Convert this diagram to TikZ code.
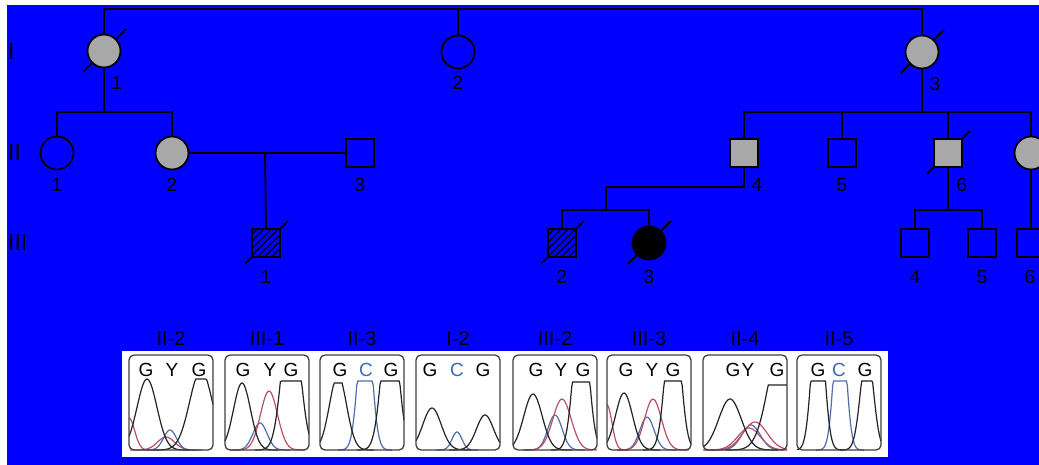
\documentclass[tikz,border=0pt]{standalone}
\usepackage{fontspec}
\setmainfont{Liberation Sans}
\usetikzlibrary{patterns.meta,backgrounds}

\definecolor{bgblue}{RGB}{0,0,255}
\definecolor{affgray}{RGB}{168,168,168}
\definecolor{tblack}{RGB}{35,35,35}
\definecolor{tblue}{RGB}{80,110,170}
\definecolor{tred}{RGB}{185,80,105}
\definecolor{cblue}{RGB}{60,105,185}

\begin{document}
\begin{tikzpicture}[x=1pt, y=-1pt,
    ln/.style={line width=1.8pt},
    fem/.style={circle, draw, ln, minimum size=33pt, inner sep=0pt},
    mal/.style={rectangle, draw, ln, minimum size=28pt, inner sep=0pt},
    aff/.style={fill=affgray},
    hatch/.style={fill=bgblue, postaction={pattern={Lines[angle=45, distance=5pt, line width=1.2pt]}}},
    num/.style={font=\fontsize{19}{19}\selectfont, inner sep=0pt},
    gen/.style={font=\fontsize{23}{23}\selectfont, anchor=west, inner sep=0pt},
    box/.style={draw=black!75, line width=1.3pt, rounded corners=5pt},
    trace/.style={line width=1.2pt}]

    \useasboundingbox (0,0) rectangle (1039,465);
    \clip (0,0) rectangle (1039,465);

    % 背景
    \begin{pgfonlayer}{background}
        \fill[white] (0,0) rectangle (1039,465);
        \fill[bgblue] (7,5) rectangle (1039,465);
        \fill[white] (122,351) rectangle (888,457);
    \end{pgfonlayer}

    % 代数标记
    \node[gen] (g1) at (8,52) {I};
    \node[gen] (g2) at (8,153) {II};
    \node[gen] (g3) at (8,243) {III};

    % 第一代
    \node[fem, aff] (I1) at (104,51) {};
    \node[fem] (I2) at (458,52) {};
    \node[fem, aff] (I3) at (922,52) {};

    % 第二代
    \node[fem] (II1) at (57,153) {};
    \node[fem, aff] (II2) at (172,153) {};
    \node[mal] (II3) at (360,153) {};
    \node[mal, aff] (II4) at (744,153) {};
    \node[mal] (II5) at (842,153) {};
    \node[mal, aff] (II6) at (948,153) {};
    \node[fem, aff] (II7) at (1031,153) {};

    % 第三代
    \node[mal, hatch] (III1) at (266,243) {};
    \node[mal, hatch] (III2) at (562,243) {};
    \node[fem, fill=black] (III3) at (649,243) {};
    \node[mal] (III4) at (915,243) {};
    \node[mal] (III5) at (982,243) {};
    \node[mal] (III6) at (1031,243) {};

    % 编号
    \node[num] (nI1) at (117,83) {1};
    \node[num] (nI2) at (458,83) {2};
    \node[num] (nI3) at (935,84) {3};
    \node[num] (nII1) at (57,185) {1};
    \node[num] (nII2) at (172,185) {2};
    \node[num] (nII3) at (360,185) {3};
    \node[num] (nII4) at (757,185) {4};
    \node[num] (nII5) at (842,185) {5};
    \node[num] (nII6) at (962,185) {6};
    \node[num] (nIII1) at (266,277) {1};
    \node[num] (nIII2) at (562,277) {2};
    \node[num] (nIII3) at (649,277) {3};
    \node[num] (nIII4) at (915,277) {4};
    \node[num] (nIII5) at (982,277) {5};
    \node[num] (nIII6) at (1030,277) {6};

    % 连线
    \coordinate (top) at (458,9);
    \draw[ln] (I1.north) |- (top) -| (I3.north);
    \draw[ln] (top) -- (I2.north);
    \coordinate (sib1) at (104,112);
    \draw[ln] (I1.south) -- (sib1);
    \draw[ln] (II1.north) |- (sib1) -| (II2.north);
    \draw[ln] (II2.east) -- (II3.west);
    \coordinate (mar1) at (265,153);
    \draw[ln] (mar1) -- (III1.north);
    \coordinate (sib3) at (922,112);
    \draw[ln] (I3.south) -- (sib3);
    \draw[ln] (II4.north) |- (sib3) -| (II7.north);
    \draw[ln] (II5.north) -- (II5.north |- sib3);
    \draw[ln] (II6.north) -- (II6.north |- sib3);
    \coordinate (off4) at (606,187);
    \coordinate (sib4) at (606,210);
    \draw[ln] (II4.south) |- (off4) -- (sib4);
    \draw[ln] (III2.north) |- (sib4) -| (III3.north);
    \coordinate (sib6) at (948,210);
    \draw[ln] (II6.south) -- (sib6);
    \draw[ln] (III4.north) |- (sib6) -| (III5.north);
    \draw[ln] (II7.south) -- (III6.north);

    % 已故斜线
    \begin{pgfonlayer}{background}
        \foreach \n in {I1, I3, II6, III1, III2, III3}
            \draw[ln] (\n.center) ++(-21,21) -- ++(43,-43);
    \end{pgfonlayer}

    % 测序峰图
    \foreach \bx/\pcol/\px/\ph/\pw/\pc in {
        129/tred/0/32/8/32, 129/tred/37/13/12/13, 129/tblue/41/20/9/20,
        129/tblack/18/71/14/71, 129/tblack/72/80/16/71,
        225/tblue/35/27/10/27, 225/tred/44/59/12/59,
        225/tblack/17/67/12/67, 225/tblack/66/150/12/69,
        320/tblue/45/150/9/69, 320/tblack/18/75/12/67, 320/tblack/70/150/11/69,
        416/tblue/41/18/7/18, 416/tblack/16/42/13/42, 416/tblack/69/35/12/35,
        513/tblue/42/35/10/35, 513/tred/49/51/13/51,
        513/tblack/20/56/13/56, 513/tblack/68/150/10/68,
        607/tred/0/45/7/45, 607/tblue/40/33/10/33, 607/tred/46/51/12/51,
        607/tblack/17/57/12/57, 607/tblack/66/150/10/69,
        703/tblue/48/25/13/25, 703/tred/52/28/17/28, 703/tred/46/22/16/22,
        703/tblack/27/51/16/51, 703/tblack/80/120/19/65,
        797/tblue/43/150/8/69, 797/tblack/21/150/8.5/69, 797/tblack/70/100/9/69} {
        \pgfmathsetmacro{\lo}{max(0,\px-3*\pw)}
        \pgfmathsetmacro{\hi}{min(84,\px+3*\pw)}
        \draw[trace, draw=\pcol] plot[domain=\lo:\hi, samples=50]
            ({\bx+\x}, {450-min(\pc, \ph*exp(-((\x-\px)/\pw)*((\x-\px)/\pw)))});
    }

    % 方框与碱基
    \foreach \bx/\ga/\mb/\gb/\ml/\mc/\lbl [count=\i] in {
        129/17/43/70/Y/black/II-2, 225/18/45/66/Y/black/III-1,
        320/20/46/71/C/cblue/II-3, 416/14/41/67/C/cblue/I-2,
        513/23/48/70/Y/black/III-2, 607/19/45/66/Y/black/III-3,
        703/30/45/74/Y/black/II-4, 797/21/42/68/C/cblue/II-5} {
        \draw[box] (\bx,355) rectangle ++(84,95);
        \node[num] (ga\i) at (\bx+\ga,370) {G};
        \node[num, text=\mc] (mb\i) at (\bx+\mb,370) {\ml};
        \node[num] (gb\i) at (\bx+\gb,370) {G};
        \node[num, font=\fontsize{20}{20}\selectfont] (t\i) at (\bx+42,339) {\lbl};
    }

\end{tikzpicture}
\end{document}
